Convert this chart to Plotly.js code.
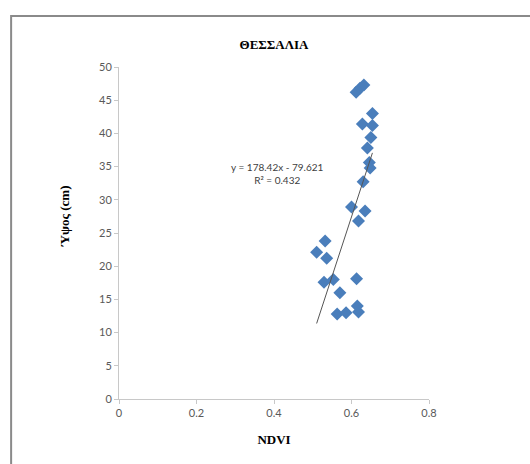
<!DOCTYPE html>
<html>
<head>
<meta charset="utf-8">
<script src="https://cdn.plot.ly/plotly-3.0.1.min.js"></script>
<style>
  html, body { margin: 0; padding: 0; background: #ffffff; }
  #chart { width: 530px; height: 464px; }
</style>
</head>
<body>
<div id="chart"></div>
<script>
// NDVI against plant height (cm), Thessaly samples
const ndvi = [0.612, 0.622, 0.632, 0.654, 0.628, 0.654, 0.650, 0.641, 0.646, 0.648,
              0.630, 0.600, 0.635, 0.618, 0.532, 0.510, 0.536, 0.529, 0.553, 0.613,
              0.570, 0.563, 0.586, 0.615, 0.618];
const height = [46.2, 46.8, 47.3, 43.0, 41.4, 41.2, 39.4, 37.8, 35.6, 34.8,
                32.7, 28.9, 28.3, 26.8, 23.8, 22.1, 21.2, 17.6, 18.0, 18.1,
                16.0, 12.8, 13.0, 14.0, 13.1];

// Linear trend: y = slope * x + intercept
const slope = 178.42;
const intercept = -79.621;
const r2 = 0.432;

const xTicks = [0, 0.2, 0.4, 0.6, 0.8];
const xTickText = ['0', '0.2', '0.4', '0.6', '0.8'];
const yTicks = [0, 5, 10, 15, 20, 25, 30, 35, 40, 45, 50];

const xMin = Math.min(...ndvi);
const xMax = Math.max(...ndvi);
const trendX = [xMin, xMax];
const trendY = trendX.map(x => slope * x + intercept);

const tickFont = { family: 'Lato, "Open Sans", sans-serif', size: 11, color: '#595959' };
const serifBold = { family: '"Liberation Serif", "DejaVu Serif", serif', size: 13, color: '#000000' };

const data = [
  {
    type: 'scatter', mode: 'markers', x: ndvi, y: height,
    marker: { symbol: 'diamond', size: 10, color: '#4a7ebb', line: { width: 0 } },
    hoverinfo: 'x+y', showlegend: false
  },
  {
    type: 'scatter', mode: 'lines', x: trendX, y: trendY,
    line: { color: '#555555', width: 1 },
    hoverinfo: 'skip', showlegend: false
  }
];

const layout = {
  width: 530, height: 464,
  margin: { l: 119, r: 101, t: 67, b: 65 },
  paper_bgcolor: '#ffffff', plot_bgcolor: '#ffffff',
  font: tickFont,
  xaxis: {
    range: [0, 0.8], tickvals: xTicks, ticktext: xTickText,
    showgrid: false, zeroline: false, showline: true, linecolor: '#c8c8c8', linewidth: 1,
    ticks: 'outside', ticklen: 4, tickcolor: '#c8c8c8', tickfont: tickFont,
    title: { text: '<b>NDVI</b>', font: serifBold, standoff: 16 }
  },
  yaxis: {
    range: [0, 50], tickvals: yTicks,
    showgrid: false, zeroline: false, showline: true, linecolor: '#c8c8c8', linewidth: 1,
    ticks: 'outside', ticklen: 4, tickcolor: '#c8c8c8', tickfont: tickFont
  },
  title: {
    text: '<b>ΘΕΣΣΑΛΙΑ</b>', font: serifBold,
    x: 0.5, xref: 'paper', xanchor: 'center',
    y: 0.905, yref: 'container', yanchor: 'middle'
  },
  annotations: [
    {
      text: '<b>Ύψος (cm)</b>', font: serifBold, textangle: -90,
      xref: 'paper', yref: 'paper', x: -0.175, y: 0.55,
      xanchor: 'center', yanchor: 'middle', showarrow: false
    },
    {
      text: 'y = ' + slope + 'x - ' + Math.abs(intercept) + '<br>R² = ' + r2,
      font: { family: 'Lato, "Open Sans", sans-serif', size: 10, color: '#404040' },
      align: 'center',
      xref: 'x', yref: 'y', x: 0.41, y: 34.0,
      xanchor: 'center', yanchor: 'middle', showarrow: false
    }
  ],
  shapes: [
    {
      type: 'rect', xref: 'paper', yref: 'paper',
      x0: -0.348, x1: 1.5, y0: -0.4, y1: 1.1536,
      line: { color: '#8a8a8a', width: 2 }, fillcolor: 'rgba(0,0,0,0)'
    }
  ]
};

Plotly.newPlot('chart', data, layout, { displayModeBar: false, staticPlot: true });
</script>
</body>
</html>
